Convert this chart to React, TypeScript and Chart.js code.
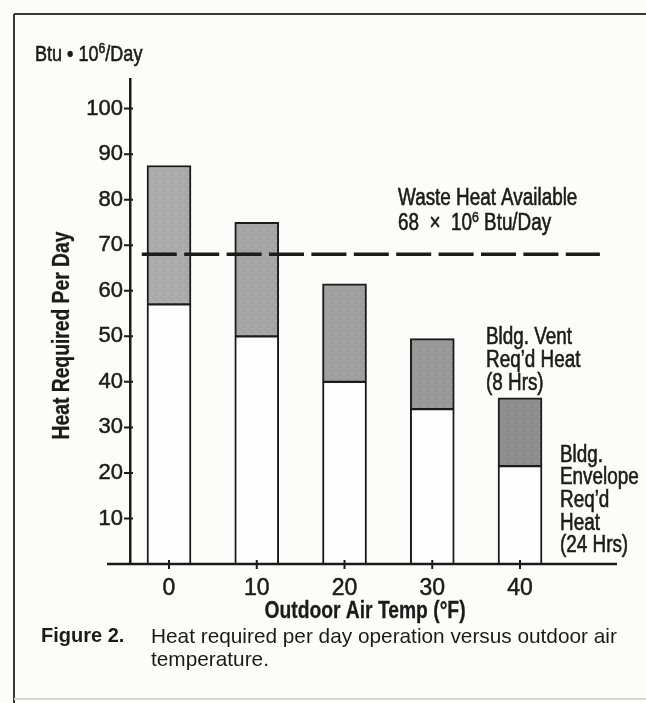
import React, { useEffect, useRef } from "react";
import { Chart, registerables } from "chart.js";

Chart.register(...registerables);

// ---- data ----
const TEMPS = [0, 10, 20, 30, 40];
const ENVELOPE_HEAT = [57, 50, 40, 34, 21.5];
const VENT_HEAT = [30.5, 25, 21.5, 15.5, 15];
const Y_TICKS = [10, 20, 30, 40, 50, 60, 70, 80, 90, 100];
const WASTE_HEAT = 68;
const WASTE_LINE_X = [-3.1, 49.1];

type Seg = { t: string; sup?: boolean };
const UNIT_LABEL: Seg[] = [{ t: "Btu \u2022 10" }, { t: "6", sup: true }, { t: "/Day" }];
const Y_TITLE = "Heat Required Per Day";
const X_TITLE = "Outdoor Air Temp (\u00B0F)";
const WASTE_LABEL: Seg[][] = [
  [{ t: "Waste Heat Available" }],
  [{ t: "68  \u00D7  10" }, { t: "6", sup: true }, { t: " Btu/Day" }],
];
const VENT_LABEL = ["Bldg. Vent", "Req\u2019d Heat", "(8 Hrs)"];
const ENVELOPE_LABEL = ["Bldg.", "Envelope", "Req\u2019d", "Heat", "(24 Hrs)"];

// ---- style ----
const INK = "#1b1b1b";
const VENT_GREYS = ["#ababab", "#a5a5a5", "#9f9f9f", "#989898", "#8e8e8e"];
const SANS = "'Liberation Sans', Arial, Helvetica, sans-serif";
const NARROW_X = 0.82;
// fixed stipple offsets for the grey screen tone (a style, not data)
const STIPPLE = [
  [0, 1, -14], [3, 0, 12], [5, 2, -10], [1, 4, 10], [6, 5, -12], [2, 6, 14], [4, 3, -8], [7, 7, 9],
  [0, 6, 8], [6, 1, 11], [2, 2, -9], [4, 7, -11], [7, 3, 7], [1, 7, -7], [5, 5, 12], [3, 4, -13],
];

function shade(hex: string, d: number) {
  const v = Math.max(0, Math.min(255, parseInt(hex.slice(1, 3), 16) + d));
  return `rgb(${v},${v},${v})`;
}

function makeTone(base: string) {
  const c = document.createElement("canvas");
  c.width = 8;
  c.height = 8;
  const g = c.getContext("2d")!;
  g.fillStyle = base;
  g.fillRect(0, 0, 8, 8);
  STIPPLE.forEach(([px, py, d]) => {
    g.fillStyle = shade(base, d);
    g.fillRect(px, py, 1, 1);
  });
  return g.createPattern(c, "repeat");
}

function drawRich(ctx: any, segs: Seg[], x: number, y: number, size: number, weight: string, align: string) {
  ctx.save();
  const fontFor = (s: Seg) => `${weight} ${s.sup ? Math.round(size * 0.66) : size}px ${SANS}`;
  let total = 0;
  segs.forEach((s) => {
    ctx.font = fontFor(s);
    total += ctx.measureText(s.t).width;
  });
  ctx.translate(x, y);
  ctx.scale(NARROW_X, 1);
  let cx = align === "center" ? -total / 2 : 0;
  ctx.textAlign = "left";
  ctx.textBaseline = "alphabetic";
  ctx.strokeStyle = INK;
  ctx.lineWidth = weight === "bold" ? 0.3 : 0.6;
  segs.forEach((s) => {
    ctx.font = fontFor(s);
    const yy = s.sup ? -size * 0.36 : 0;
    ctx.fillText(s.t, cx, yy);
    ctx.strokeText(s.t, cx, yy);
    cx += ctx.measureText(s.t).width;
  });
  ctx.restore();
}

const decor = {
  id: "decor",
  beforeDraw(chart: any) {
    const { ctx, width, height } = chart;
    ctx.save();
    ctx.fillStyle = "#fcfcfb";
    ctx.fillRect(0, 0, width, height);
    ctx.strokeStyle = "#3a3a3a";
    ctx.lineWidth = 2;
    ctx.beginPath();
    ctx.moveTo(14, 14);
    ctx.lineTo(width, 14);
    ctx.moveTo(14, 14);
    ctx.lineTo(14, height);
    ctx.stroke();
    ctx.strokeStyle = "#d6d6d6";
    ctx.beginPath();
    ctx.moveTo(14, 699);
    ctx.lineTo(width, 699);
    ctx.stroke();
    ctx.restore();
  },
  afterDraw(chart: any) {
    const { ctx, chartArea } = chart;
    const x = chart.scales.x;
    const y = chart.scales.y;
    const y0 = y.getPixelForValue(0);
    ctx.save();
    ctx.strokeStyle = INK;
    ctx.lineWidth = 2.5;
    ctx.beginPath();
    ctx.moveTo(chartArea.left - 23, y0);
    ctx.lineTo(chartArea.right, y0);
    ctx.stroke();
    ctx.lineWidth = 2;
    ctx.beginPath();
    Y_TICKS.forEach((v) => {
      const p = y.getPixelForValue(v);
      ctx.moveTo(chartArea.left - 6, p);
      ctx.lineTo(chartArea.left + 3, p);
    });
    TEMPS.forEach((v) => {
      const p = x.getPixelForValue(v);
      ctx.moveTo(p, y0 - 4);
      ctx.lineTo(p, y0 + 5);
    });
    ctx.stroke();
    ctx.fillStyle = INK;

    // unit label
    drawRich(ctx, UNIT_LABEL, 35, 61, 22, "normal", "left");

    // waste heat label
    const wy = y.getPixelForValue(WASTE_HEAT);
    const wx = x.getPixelForValue(26.1);
    WASTE_LABEL.forEach((segs, i) => drawRich(ctx, segs, wx, wy - 49.5 + 25 * i, 23, "normal", "left"));

    // vent label
    const last = TEMPS.length - 1;
    const barX = x.getPixelForValue(TEMPS[last]);
    const topY = y.getPixelForValue(ENVELOPE_HEAT[last] + VENT_HEAT[last]);
    VENT_LABEL.forEach((t, i) => drawRich(ctx, [{ t }], barX - 34, topY - 54 + 23 * i, 23, "normal", "left"));

    // envelope label
    const envY = y.getPixelForValue(ENVELOPE_HEAT[last]);
    ENVELOPE_LABEL.forEach((t, i) =>
      drawRich(ctx, [{ t }], barX + 40, envY - 4.5 + 22.7 * i, 23, "normal", "left")
    );

    // axis titles
    drawRich(ctx, [{ t: X_TITLE }], 365, 618, 23.5, "bold", "center");
    ctx.save();
    ctx.translate(69, (chartArea.top + chartArea.bottom) / 2 + 14);
    ctx.rotate(-Math.PI / 2);
    drawRich(ctx, [{ t: Y_TITLE }], 0, 0, 23.5, "bold", "center");
    ctx.restore();
    ctx.restore();
  },
};

export default function App() {
  const ref = useRef<HTMLCanvasElement | null>(null);

  useEffect(() => {
    document.body.style.margin = "0";
    const canvas = ref.current;
    if (!canvas) return;
    const chart = new Chart(canvas, {
      type: "bar",
      data: {
        datasets: [
          {
            type: "line",
            label: "Waste Heat Available",
            data: WASTE_LINE_X.map((v) => ({ x: v, y: WASTE_HEAT })),
            borderColor: INK,
            borderWidth: 3.5,
            borderDash: [35, 7.4],
            pointRadius: 0,
            fill: false,
            order: 0,
          } as any,
          {
            label: "Bldg. Envelope Req'd Heat (24 Hrs)",
            data: TEMPS.map((t, i) => ({ x: t, y: ENVELOPE_HEAT[i] })),
            backgroundColor: "#fdfdfd",
            borderColor: INK,
            borderWidth: { top: 1.5, left: 2, right: 2, bottom: 0 },
            borderSkipped: false,
            barThickness: 44,
            order: 1,
          },
          {
            label: "Bldg. Vent Req'd Heat (8 Hrs)",
            data: TEMPS.map((t, i) => ({ x: t, y: VENT_HEAT[i] })),
            backgroundColor: VENT_GREYS.map((g) => makeTone(g)),
            borderColor: INK,
            borderWidth: { top: 2, left: 2, right: 2, bottom: 1.5 },
            borderSkipped: false,
            barThickness: 44,
            order: 2,
          },
        ],
      },
      options: {
        responsive: false,
        animation: false,
        devicePixelRatio: 1,
        layout: { padding: { left: 0, top: 79, right: 29, bottom: 69 } },
        plugins: {
          legend: { display: false },
          tooltip: { enabled: false },
          title: { display: false },
        },
        scales: {
          x: {
            type: "linear",
            stacked: true,
            offset: false,
            min: -4.444,
            max: 51.05,
            afterBuildTicks: (s: any) => {
              s.ticks = TEMPS.map((v) => ({ value: v }));
            },
            afterFit: (s: any) => {
              s.height = 70;
            },
            grid: { display: false, drawTicks: false, offset: false },
            border: { display: false },
            ticks: {
              color: INK,
              padding: 11,
              maxRotation: 0,
              autoSkip: false,
              textStrokeColor: INK,
              textStrokeWidth: 0.5,
              font: { family: SANS, size: 23 },
            },
          },
          y: {
            type: "linear",
            stacked: true,
            min: 0,
            max: 106.5,
            afterBuildTicks: (s: any) => {
              s.ticks = Y_TICKS.map((v) => ({ value: v }));
            },
            afterFit: (s: any) => {
              s.width = 130;
            },
            grid: { display: false, drawTicks: false },
            border: { display: true, color: INK, width: 2.5 },
            ticks: {
              color: INK,
              padding: 7,
              autoSkip: false,
              textStrokeColor: INK,
              textStrokeWidth: 0.5,
              font: { family: SANS, size: 22 },
            },
          },
        },
      },
      plugins: [decor],
    } as any);
    return () => chart.destroy();
  }, []);

  return (
    <div style={{ position: "absolute", left: 0, top: 0, width: 646, height: 703, overflow: "hidden" }}>
      <canvas ref={ref} width={646} height={703} style={{ width: 646, height: 703, display: "block" }} />
      <div
        style={{
          position: "absolute",
          left: 41,
          top: 624,
          font: `bold 20px ${SANS}`,
          lineHeight: "23px",
          color: INK,
        }}
      >
        Figure 2.
      </div>
      <div
        style={{
          position: "absolute",
          left: 151,
          top: 624,
          width: 485,
          font: `20.8px ${SANS}`,
          lineHeight: "23px",
          color: INK,
        }}
      >
        Heat required per day operation versus outdoor air temperature.
      </div>
    </div>
  );
}
